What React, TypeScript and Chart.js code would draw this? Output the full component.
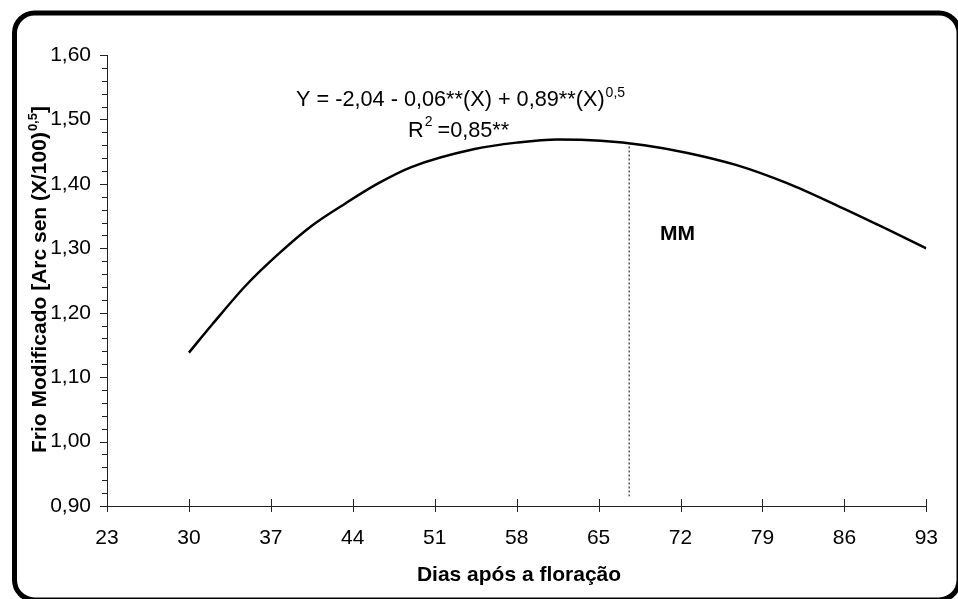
import React, { useEffect, useRef } from 'react';
import { Chart, registerables } from 'chart.js';

Chart.register(...registerables);

// ---- data ----
const days = [30, 32, 34.9, 37.7, 40.5, 43.4, 46.2, 49, 54.4, 58, 61.5, 65.2, 68.9, 72.6, 76.8, 81.1, 85.3, 89.6, 93];
const frioValues = [1.138, 1.182, 1.243, 1.292, 1.335, 1.37, 1.401, 1.426, 1.454, 1.464, 1.469, 1.467, 1.46, 1.448, 1.429, 1.401, 1.367, 1.33, 1.3];
const mmDay = [67.61, 67.61];
const mmValues = [1.458, 0.915];
const xTickValues = [23, 30, 37, 44, 51, 58, 65, 72, 79, 86, 93];
const yMin = 0.9;
const yMax = 1.6;
const yMajorStep = 0.1;
const yMinorStep = 0.02;

const equationMain = 'Y = -2,04 - 0,06**(X) + 0,89**(X)';
const equationSup = '0,5';
const r2Main = 'R';
const r2Sup = '2';
const r2Rest = ' =0,85**';
const mmLabel = 'MM';
const xTitle = 'Dias após a floração';
const yTitleMain = 'Frio Modificado [Arc sen (X/100)';
const yTitleSup = '0,5';
const yTitleEnd = ']';

const FONT = '"Liberation Sans", Arial, Helvetica, sans-serif';
const W = 958;
const H = 599;

const decorPlugin = {
  id: 'decor',
  beforeDraw(chart: any) {
    const ctx = chart.ctx;
    ctx.save();
    ctx.fillStyle = '#ffffff';
    ctx.fillRect(0, 0, chart.width, chart.height);
    ctx.restore();
  },
  afterDraw(chart: any) {
    const ctx = chart.ctx;
    const xs = chart.scales.x;
    const ys = chart.scales.y;
    const area = chart.chartArea;
    ctx.save();
    // axis tick marks
    ctx.strokeStyle = '#222';
    ctx.lineWidth = 1;
    ctx.beginPath();
    for (let i = 0; i <= Math.round((yMax - yMin) / yMinorStep); i++) {
      const v = yMin + i * yMinorStep;
      const py = Math.round(ys.getPixelForValue(v)) + 0.5;
      const major = i % Math.round(yMajorStep / yMinorStep) === 0;
      ctx.moveTo(area.left - (major ? 7 : 5), py);
      ctx.lineTo(area.left, py);
    }
    for (const v of xTickValues) {
      const px = Math.round(xs.getPixelForValue(v)) + 0.5;
      ctx.moveTo(px, area.bottom - 7);
      ctx.lineTo(px, area.bottom + 6);
    }
    ctx.stroke();

    ctx.fillStyle = '#000';
    ctx.textBaseline = 'alphabetic';
    // equation
    ctx.font = `21.7px ${FONT}`;
    ctx.textAlign = 'left';
    let x = 296;
    ctx.fillText(equationMain, x, 106);
    x += ctx.measureText(equationMain).width;
    ctx.font = `14px ${FONT}`;
    ctx.fillText(equationSup, x + 1, 97);
    // R2
    ctx.font = `21.7px ${FONT}`;
    x = 408;
    ctx.fillText(r2Main, x, 137);
    x += ctx.measureText(r2Main).width;
    ctx.font = `14px ${FONT}`;
    ctx.fillText(r2Sup, x + 1, 126);
    x += ctx.measureText(r2Sup).width;
    ctx.font = `21.7px ${FONT}`;
    ctx.fillText(r2Rest, x, 137);

    // MM label
    ctx.font = `bold 21px ${FONT}`;
    ctx.fillText(mmLabel, 660, 240);

    // x title
    ctx.textAlign = 'center';
    ctx.fillText(xTitle, 519, 581);

    // y title (rotated)
    ctx.save();
    ctx.translate(46, 453);
    ctx.rotate(-Math.PI / 2);
    ctx.textAlign = 'left';
    ctx.font = `bold 21px ${FONT}`;
    let t = 0;
    ctx.fillText(yTitleMain, t, 0);
    t += ctx.measureText(yTitleMain).width;
    ctx.font = `bold 13px ${FONT}`;
    ctx.fillText(yTitleSup, t + 1, -9);
    t += ctx.measureText(yTitleSup).width + 1;
    ctx.font = `bold 21px ${FONT}`;
    ctx.fillText(yTitleEnd, t, 0);
    ctx.restore();

    // rounded frame
    ctx.strokeStyle = '#000';
    ctx.lineWidth = 5;
    ctx.beginPath();
    ctx.roundRect(14.5, 13, 959 - 14.5, 600 - 13, 20);
    ctx.stroke();
    ctx.restore();
  },
};

export default function App() {
  const ref = useRef<HTMLCanvasElement>(null);
  useEffect(() => {
    if (!ref.current) return;
    const chart = new Chart(ref.current, {
      type: 'line',
      data: {
        datasets: [
          {
            data: days.map((d, i) => ({ x: d, y: frioValues[i] })),
            borderColor: '#000',
            borderWidth: 2.5,
            pointRadius: 0,
            tension: 0.4,
            cubicInterpolationMode: 'monotone',
            fill: false,
          },
          {
            data: mmDay.map((d, i) => ({ x: d, y: mmValues[i] })),
            borderColor: '#000',
            borderWidth: 1,
            borderDash: [2, 2],
            pointRadius: 0,
            fill: false,
          },
        ],
      },
      options: {
        responsive: false,
        animation: false,
        devicePixelRatio: 1,
        layout: { padding: { left: 0, top: 55, right: 28, bottom: 0 } },
        plugins: { legend: { display: false }, tooltip: { enabled: false } },
        scales: {
          x: {
            type: 'linear',
            min: 23,
            max: 93,
            afterFit: (s: any) => { s.height = 93; },
            afterBuildTicks: (s: any) => { s.ticks = xTickValues.map((v) => ({ value: v })); },
            grid: { display: false, drawTicks: false },
            border: { display: true, color: '#222', width: 1 },
            ticks: {
              padding: 20,
              color: '#000',
              font: { family: FONT, size: 21 },
              callback: (v: any) => String(v),
              maxRotation: 0,
              autoSkip: false,
            },
          },
          y: {
            type: 'linear',
            min: yMin,
            max: yMax,
            afterFit: (s: any) => { s.width = 107; },
            grid: { display: false, drawTicks: false },
            border: { display: true, color: '#222', width: 1 },
            ticks: {
              stepSize: yMajorStep,
              padding: 16,
              color: '#000',
              font: { family: FONT, size: 21 },
              callback: (v: any) => Number(v).toFixed(2).replace('.', ','),
            },
          },
        },
      },
      plugins: [decorPlugin],
    } as any);
    return () => chart.destroy();
  }, []);
  return (
    <div style={{ position: 'fixed', left: 0, top: 0, width: W, height: H }}>
      <canvas ref={ref} width={W} height={H} style={{ display: 'block', width: W, height: H }} />
    </div>
  );
}
